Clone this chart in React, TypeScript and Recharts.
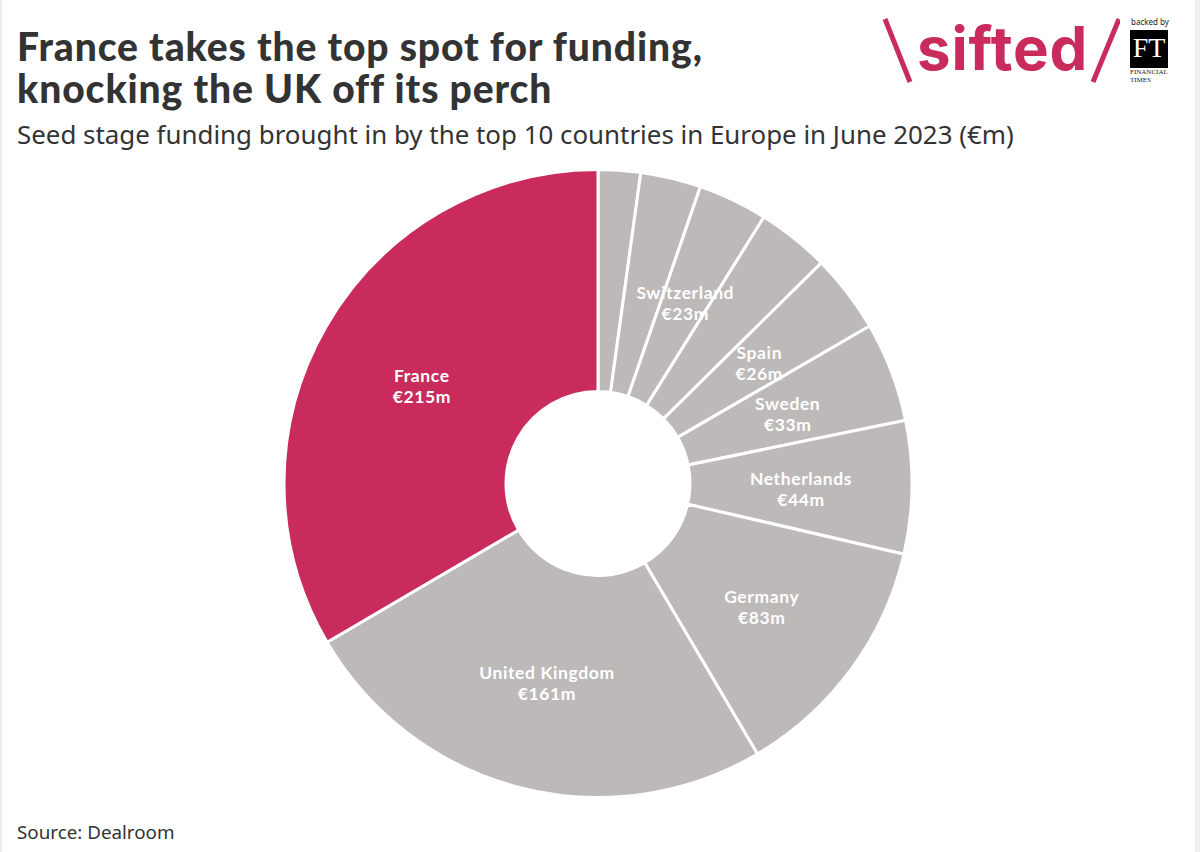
import { PieChart, Pie, Cell } from "recharts";

// clockwise from 12 o'clock, the four smallest carry no label in the picture
const countries = ["", "", "Switzerland", "", "Spain", "Sweden", "Netherlands", "Germany", "United Kingdom", "France"];
const funding = [14, 20, 23, 24, 26, 33, 44, 83, 161, 215];

const rows = countries.map((name, i) => ({ name, value: funding[i] }));

const CRIMSON = "#c92c5c";
const GREY = "#bdb9b8";
const INK = "#333333";
const FONT = "'Noto Sans', sans-serif";
const HEAD = "Lato, sans-serif";

function SliceLabel(props: any) {
  const { cx, cy, midAngle, innerRadius, outerRadius, name, value } = props;
  if (!name) return null;
  const r = (innerRadius + outerRadius) / 2;
  const a = (-midAngle * Math.PI) / 180;
  const x = cx + r * Math.cos(a);
  const y = cy + r * Math.sin(a);
  return (
    <text x={x} textAnchor="middle" fill="#fff" fontFamily={HEAD} fontSize={17.5} fontWeight={700} letterSpacing={0.6}>
      <tspan x={x} y={y - 1}>{name}</tspan>
      <tspan x={x} y={y + 20}>{`€${value}m`}</tspan>
    </text>
  );
}

function Logo() {
  return (
    <>
      <svg width={240} height={72} style={{ position: "absolute", left: 880, top: 14 }}>
        <line x1={5} y1={5} x2={30} y2={68} stroke={CRIMSON} strokeWidth={5} />
        <line x1={239} y1={5} x2={213} y2={68} stroke={CRIMSON} strokeWidth={5} />
      </svg>
      <div style={{ position: "absolute", left: 917, top: 8, fontFamily: "Inter, sans-serif", fontWeight: 700, fontSize: 60, letterSpacing: 0.8, color: CRIMSON, lineHeight: "80px" }}>
        sifted
      </div>
      <div style={{ position: "absolute", left: 1131, top: 16, fontFamily: FONT, fontSize: 8, color: "#222" }}>backed by</div>
      <div style={{ position: "absolute", left: 1130, top: 30, width: 38, height: 38, background: "#000", color: "#fff", fontFamily: "'Liberation Serif', serif", fontSize: 28, textAlign: "center", lineHeight: "36px" }}>
        FT
      </div>
      <div style={{ position: "absolute", left: 1130, top: 69, fontFamily: "'Liberation Serif', serif", fontSize: 7, lineHeight: "7.5px", color: "#222" }}>
        FINANCIAL<br />TIMES
      </div>
    </>
  );
}

export default function App() {
  return (
    <div style={{ position: "fixed", left: 0, top: 0, width: 1200, height: 852, background: "#fff", overflow: "hidden" }}>
      <div style={{ position: "absolute", left: 0, top: 0, width: 2, height: 852, background: "#eeeeee" }} />
      <div style={{ position: "absolute", right: 0, top: 0, width: 5, height: 852, background: "#f0f0f0" }} />

      <div style={{ position: "absolute", left: 17, top: 25, fontFamily: HEAD, fontWeight: 900, fontSize: 39, letterSpacing: 0.9, lineHeight: "42px", color: INK, whiteSpace: "nowrap" }}>
        France takes the top spot for funding,<br />knocking the UK off its perch
      </div>
      <div style={{ position: "absolute", left: 17, top: 114, fontFamily: FONT, fontSize: 25.9, lineHeight: "40px", color: INK, whiteSpace: "nowrap" }}>
        Seed stage funding brought in by the top 10 countries in Europe in June 2023 (€m)
      </div>

      <Logo />

      <div style={{ position: "absolute", left: 0, top: 0 }}>
        <PieChart width={1200} height={852}>
          <Pie
            data={rows}
            dataKey="value"
            nameKey="name"
            cx={593}
            cy={478.5}
            innerRadius={92}
            outerRadius={314}
            startAngle={90}
            endAngle={-270}
            stroke="#fff"
            strokeWidth={3}
            label={SliceLabel}
            labelLine={false}
            isAnimationActive={false}
          >
            {rows.map((r) => (
              <Cell key={r.value} fill={r.name === "France" ? CRIMSON : GREY} />
            ))}
          </Pie>
        </PieChart>
      </div>

      <div style={{ position: "absolute", left: 17, top: 819, fontFamily: FONT, fontSize: 18.8, lineHeight: "26px", color: INK }}>
        Source: Dealroom
      </div>
    </div>
  );
}
